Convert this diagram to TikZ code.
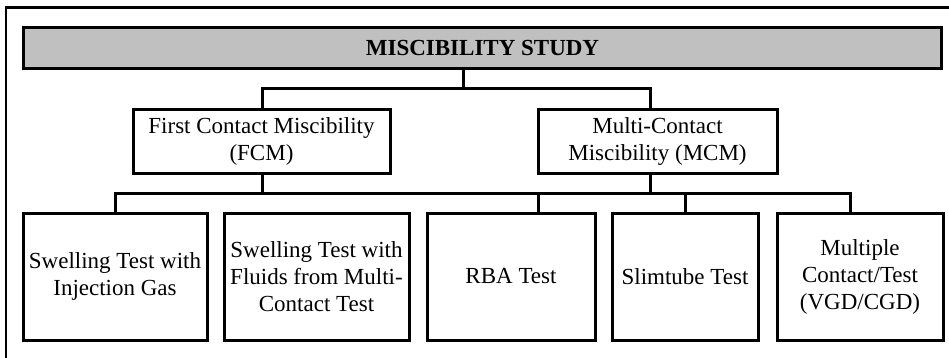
\documentclass[tikz,border=0pt]{standalone}
\usepackage{fontspec}
\setmainfont{Liberation Serif}
\begin{document}
\begin{tikzpicture}[x=1pt,y=-1pt,
  txt/.style={font=\fontsize{23}{27}\selectfont},
  box/.style={draw, line width=3pt, rectangle, inner sep=0pt, align=center, txt},
  conn/.style={line width=3pt, line join=miter},
  frame/.style={line width=2.5pt}]
\useasboundingbox (0,0) rectangle (949,358);
% open outer frame (top and left edges)
\draw[frame] (6,358) -- (6,7.5) -- (949,7.5);

% title bar
\node[box, fill={rgb,255:red,192;green,192;blue,192}, minimum width=918pt, minimum height=41pt,
      font=\fontsize{23}{27}\selectfont\bfseries] (title) at (482.5,48.5) {MISCIBILITY STUDY};

% second level
\node[box, minimum width=257pt, minimum height=63pt] (fcm) at (261.5,141.5)
  {First Contact Miscibility\\(FCM)};
\node[box, minimum width=239pt, minimum height=63pt] (mcm) at (657.5,141.5)
  {Multi-Contact\\Miscibility (MCM)};

% third level
\node[box, minimum width=184pt, minimum height=127pt] (s1) at (115,276.5)
  {Swelling Test with\\Injection Gas};
\node[box, minimum width=185pt, minimum height=127pt] (s2) at (316.5,276.5)
  {Swelling Test with\\Fluids from Multi-\\Contact Test};
\node[box, minimum width=168pt, minimum height=127pt] (rba) at (511,276.5)
  {RBA Test};
\node[box, minimum width=146pt, minimum height=127pt] (slim) at (685,276.5)
  {Slimtube Test};
\node[box, minimum width=166pt, minimum height=127pt] (mult) at (860,276.5)
  {Multiple\\Contact/Test\\(VGD/CGD)};

% connector junctions
\coordinate (top) at (463,89);
\coordinate (a1) at (262,89);
\coordinate (a2) at (650,89);
\coordinate (b1) at (115,193);
\coordinate (b3) at (538,193);
\coordinate (b4) at (685,193);
\coordinate (b5) at (850,193);

% title to second level
\draw[conn] (title.south -| top) -- (top);
\draw[conn] (fcm.north -| a1) -- (a1) -- (a2) -- (mcm.north -| a2);

% second level to third level
\draw[conn] (fcm.south -| a1) -- (a1 |- b1);
\draw[conn] (mcm.south -| a2) -- (a2 |- b1);
\draw[conn] (s1.north) -- (b1) -- (b5) -- (mult.north -| b5);
\draw[conn] (b3) -- (rba.north -| b3);
\draw[conn] (b4) -- (slim.north);
\end{tikzpicture}
\end{document}
